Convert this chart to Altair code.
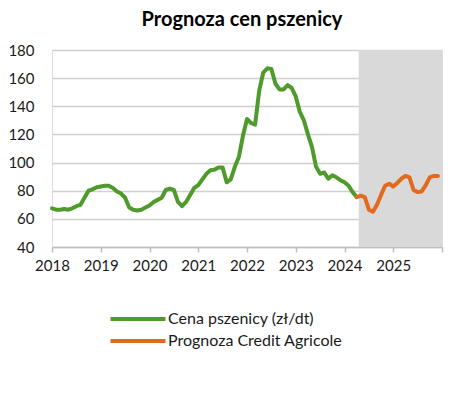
import altair as alt
import pandas as pd

# month index 0 = Jan 2018
green_months = list(range(0, 76))
green_values = [
    67.5, 66.5, 66.5, 67, 66.5, 67.5, 69, 70, 75, 80, 81, 82.5,
    83, 83.5, 83.5, 82, 79.5, 78, 75, 68, 66.5, 66, 66.5, 68,
    69.5, 72, 73.5, 75, 80.5, 81.5, 80.5, 72, 69, 72, 77, 82,
    84, 88, 92, 94.5, 95, 96.5, 96.5, 86, 88, 97, 104, 119,
    131, 128, 127, 151, 164, 167, 166.5, 156, 152, 152, 155, 153,
    147, 136, 130, 120, 111, 97, 92, 93, 88.5, 91, 89.5, 87.5,
    86, 83.5, 79, 75.5,
]

orange_months = list(range(75, 96))
orange_values = [
    75.5, 76.5, 75.5, 66.5, 65, 70, 77, 83.5, 85, 83, 85.5, 88.5,
    90.5, 89.5, 80.5, 79, 79.5, 84, 89.5, 90.5, 90.5,
]

series_names = ["Cena pszenicy (zł/dt)", "Prognoza Credit Agricole"]
series_colors = ["#4E9A2A", "#E26A1E"]

shade_start, shade_end = 75.5, 96
year_ticks = [0, 12, 24, 36, 48, 60, 72, 84, 96]

df = pd.DataFrame({"m": green_months, "v": green_values, "s": series_names[0]})
df = pd.concat(
    [df, pd.DataFrame({"m": orange_months, "v": orange_values, "s": series_names[1]})],
    ignore_index=True,
)

FONT = "Lato"

xscale = alt.Scale(domain=[0, 96], nice=False, zero=False)
yscale = alt.Scale(domain=[40, 180], nice=False, zero=False)

shade = (
    alt.Chart(pd.DataFrame({"a": [shade_start], "b": [shade_end]}))
    .mark_rect(color="#D9D9D9")
    .encode(
        x=alt.X("a:Q", scale=xscale),
        x2="b:Q",
        y=alt.value(0),
        y2=alt.value(197),
    )
)

lines = (
    alt.Chart(df)
    .mark_line(strokeWidth=4, strokeJoin="round", strokeCap="round")
    .encode(
        x=alt.X(
            "m:Q",
            scale=xscale,
            axis=alt.Axis(
                values=year_ticks,
                labelExpr="datum.value == 96 ? '' : toString(2018 + datum.value / 12)",
                labelOverlap=False,
                labelFlush=False,
                title=None,
                grid=False,
                domain=True,
                domainColor="#BFBFBF",
                domainWidth=1.5,
                ticks=True,
                tickColor="#BFBFBF",
                tickSize=5,
                tickWidth=1.5,
                labelFontSize=15,
                labelFont=FONT,
                labelColor="#1a1a1a",
                labelPadding=6,
            ),
        ),
        y=alt.Y(
            "v:Q",
            scale=yscale,
            axis=alt.Axis(
                values=[40, 60, 80, 100, 120, 140, 160, 180],
                title=None,
                domain=False,
                ticks=False,
                grid=True,
                gridColor="#D0D0D0",
                gridWidth=1.5,
                labelFontSize=15,
                labelFont=FONT,
                labelColor="#1a1a1a",
                labelPadding=18,
            ),
        ),
        color=alt.Color(
            "s:N",
            scale=alt.Scale(domain=series_names, range=series_colors),
            legend=alt.Legend(
                title=None,
                orient="none",
                legendX=78,
                legendY=261,
                direction="vertical",
                symbolType="M-5,0H5",
                symbolSize=121,
                symbolStrokeWidth=4,
                labelFontSize=16,
                labelFont=FONT,
                labelColor="#1a1a1a",
                labelLimit=300,
                rowPadding=6,
                labelOffset=22,
            ),
        ),
        detail="s:N",
    )
)

chart = (
    alt.layer(shade, lines)
    .properties(
        width=390,
        height=197,
        autosize=alt.AutoSizeParams(type="none"),
        padding={"left": 44, "top": 42, "right": 23, "bottom": 130},
        title=alt.TitleParams(
            "Prognoza cen pszenicy",
            font=FONT,
            fontSize=20,
            fontWeight="bold",
            color="#000000",
            anchor="middle",
            dx=-5,
            offset=13,
        ),
    )
    .configure_view(stroke=None)
    .configure(background="white")
)

chart.save("out.html", embed_options={"renderer": "svg", "actions": False})
